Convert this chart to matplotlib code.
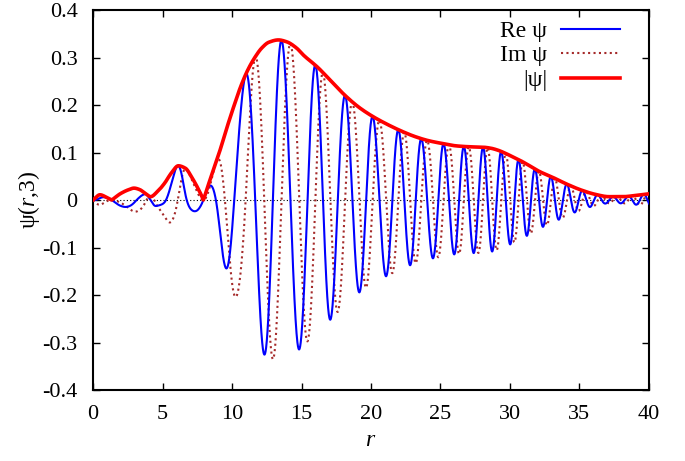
import numpy as np
import matplotlib
matplotlib.use("Agg")
import matplotlib.pyplot as plt

plt.rcParams['font.family'] = ['Liberation Serif', 'DejaVu Serif']
plt.rcParams['mathtext.fontset'] = 'custom'
plt.rcParams['mathtext.rm'] = 'Liberation Serif'
plt.rcParams['mathtext.it'] = 'Liberation Serif:italic'
plt.rcParams['axes.unicode_minus'] = False

### DATA

# signed amplitude of psi, |psi| is its absolute value
amp_r = [0.0, 0.5, 0.95, 1.34, 1.95, 2.5, 2.95, 3.35, 3.75, 4.14, 4.64, 5.14,
         5.64, 6.14, 6.64, 7.14, 7.54, 7.94, 8.14, 8.64, 9.14, 9.64, 10.14,
         10.64, 11.14, 11.64, 12.14, 12.64, 13.34, 13.94, 14.64, 15.14, 16.14,
         17.14, 18.14, 19.14, 20.12, 21.12, 22.12, 23.12, 24.12, 25.12, 26.12,
         27.12, 28.12, 28.62, 29.12, 29.62, 30.12, 30.62, 31.12, 32.12, 33.12,
         34.12, 35.12, 36.12, 37.12, 38.12, 39.12, 40.0]
amp_v = [0.0, -0.011, -0.006, 0.0, 0.013, 0.021, 0.025, 0.022, 0.014, 0.007,
         0.018, 0.035, 0.057, 0.072, 0.067, 0.046, 0.025, 0.0, -0.018, -0.062,
         -0.105, -0.153, -0.198, -0.24, -0.274, -0.30, -0.32, -0.332, -0.337,
         -0.333, -0.32, -0.305, -0.28, -0.25, -0.22, -0.195, -0.176, -0.16,
         -0.146, -0.134, -0.125, -0.119, -0.114, -0.112, -0.111, -0.109,
         -0.105, -0.099, -0.092, -0.085, -0.077, -0.06, -0.047, -0.033,
         -0.021, -0.012, -0.007, -0.007, -0.01, -0.013]

# phase of psi (in units of pi), from the positions of the Re/Im extrema
phase_r = [0.0, 0.5, 1.34, 2.30, 3.14, 3.64, 4.14, 4.40, 4.60, 5.25, 6.10,
           6.74, 7.42, 7.94, 8.84, 9.49, 10.16, 10.98, 11.67, 12.32, 13.56,
           14.84, 16.0, 17.08, 18.14, 19.17, 20.12, 21.09, 21.97, 22.82, 23.62,
           24.46, 25.22, 25.99, 26.68, 27.39, 28.06, 28.72, 29.37, 30.02,
           30.62, 31.22, 31.8, 32.38, 32.95, 33.52, 34.1, 34.67, 35.22, 35.77,
           36.32, 36.87, 37.42, 37.97, 38.52, 39.07, 39.62, 40.17]
phase_v = [0.45, 0.62, 1.0, 1.21, 1.5, 1.75, 2.5, 3.0, 3.24, 3.5, 4.0, 4.5,
           4.76, 5.0, 5.5, 6.0, 6.5, 7.0, 7.5, 8, 9, 10, 11, 12, 13, 14, 15,
           16, 17, 18, 19, 20, 21, 22, 23, 24, 25, 26, 27, 28, 29, 30, 31, 32,
           33, 34, 35, 36, 37, 38, 39, 40, 41, 42, 43, 44, 45, 46]

x_ticks = [0, 5, 10, 15, 20, 25, 30, 35, 40]
y_ticks = [-0.4, -0.3, -0.2, -0.1, 0, 0.1, 0.2, 0.3, 0.4]
y_labels = ['-0.4', '-0.3', '-0.2', '-0.1', '0', '0.1', '0.2', '0.3', '0.4']


# monotone cubic (pchip) through the read points
def pchip(x, y, xn):
    x = np.asarray(x, float)
    y = np.asarray(y, float)
    h = np.diff(x)
    d = np.diff(y) / h
    m = np.zeros(len(x))
    m[0], m[-1] = d[0], d[-1]
    for k in range(1, len(x) - 1):
        if d[k-1] * d[k] > 0:
            w1 = 2*h[k] + h[k-1]
            w2 = h[k] + 2*h[k-1]
            m[k] = (w1 + w2) / (w1/d[k-1] + w2/d[k])
    i = np.clip(np.searchsorted(x, xn) - 1, 0, len(x) - 2)
    t = (xn - x[i]) / h[i]
    h00 = 2*t**3 - 3*t**2 + 1
    h10 = t**3 - 2*t**2 + t
    h01 = -2*t**3 + 3*t**2
    h11 = t**3 - t**2
    return h00*y[i] + h10*h[i]*m[i] + h01*y[i+1] + h11*h[i]*m[i+1]


r = np.linspace(0, 40, 4000)
amp = pchip(amp_r, amp_v, r)
phase = np.pi * pchip(phase_r, phase_v, r)
re_psi = amp * np.cos(phase)
im_psi = amp * np.sin(phase)
abs_psi = np.abs(amp)

### PLOT

fig = plt.figure(figsize=(6.85, 4.61), dpi=100)
ax = fig.add_axes([0.1358, 0.154, 0.9474 - 0.1358, 0.9783 - 0.154])

ax.axhline(0, color='black', lw=0.8, ls=(0, (1, 2)), zorder=1)
ax.plot(r, re_psi, color='#0000ff', lw=1.5, label='Re ψ', zorder=3)
ax.plot(r, im_psi, color='#a52a2a', lw=1.5, ls=(0, (1, 1.6)), label='Im ψ', zorder=2)
ax.plot(r, abs_psi, color='#ff0000', lw=2.6, label='|ψ|', zorder=4)

ax.set_xlim(0, 40)
ax.set_ylim(-0.4, 0.4)
ax.set_xticks(x_ticks)
ax.set_xticklabels([str(v) for v in x_ticks])
ax.set_yticks(y_ticks)
ax.set_yticklabels(y_labels)
ax.tick_params(direction='in', length=5, width=1, top=True, right=True,
               labelsize=16, pad=11)
for s in ax.spines.values():
    s.set_linewidth(1.5)

ax.set_xlabel('$r$', fontsize=17, labelpad=4)
ax.set_ylabel('ψ($r$,3)', fontsize=17, labelpad=0)

ax.legend(loc='upper right', bbox_to_anchor=(0.982, 1.022), frameon=False,
          markerfirst=False, fontsize=17, handlelength=2.5,
          labelspacing=0.12, handletextpad=0.6, borderpad=0.3)

fig.savefig('out.png', dpi=100)
